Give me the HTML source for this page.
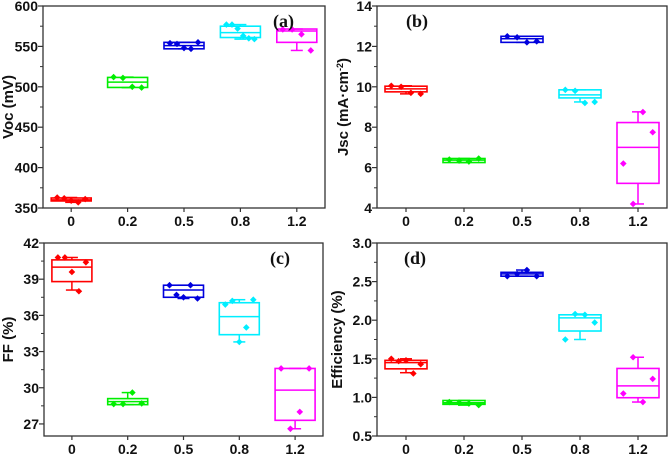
<!DOCTYPE html>
<html><head><meta charset="utf-8"><style>
body{margin:0;background:#fff}
svg text{font-family:"Liberation Sans",sans-serif;font-weight:bold}
</style></head><body>
<svg id="c" width="669" height="454" xmlns="http://www.w3.org/2000/svg"></svg>
<script>
const categories=["0","0.2","0.5","0.8","1.2"];
const colors=["#ff0000","#00ee00","#0000dd","#00eeff","#ff00ff"];
// panel a: Voc
const vocBox=[[358.7,360,362.4],[499.2,505.8,511.6],[547,551,555],[561,567,575],[555,569,571.5]];
const vocWhisk=[[357,363],[499,512],[547,555],[559,577],[545,571.5]];
const vocPts=[[363,362,359,357,361],[512,511,500,499],[554,553,548,547,555],[577,577,572,563,560,559],[571,571,565,545]];
const vocTicks=[350,400,450,500,550,600];
// panel b: Jsc
const jscBox=[[9.75,9.9,10.03],[6.25,6.37,6.45],[12.2,12.38,12.5],[9.45,9.6,9.85],[5.22,7.0,8.23]];
const jscWhisk=[[9.65,10.05],[6.25,6.45],[12.2,12.5],[9.25,9.85],[4.2,8.76]];
const jscPts=[[10.05,10,9.7,9.65],[6.4,6.35,6.3,6.45],[12.5,12.45,12.2,12.25],[9.85,9.8,9.2,9.25],[6.2,4.2,8.75,7.75]];
const jscTicks=[4,6,8,10,12,14];
// panel c: FF
const ffBox=[[38.8,40.0,40.6],[28.6,28.85,29.1],[37.5,38.1,38.5],[34.4,35.9,37.05],[27.3,29.8,31.6]];
const ffWhisk=[[38.1,40.8],[28.6,29.6],[37.4,38.5],[33.8,37.3],[26.6,31.6]];
const ffPts=[[40.8,40.8,39.6,38.0,40.4],[28.65,28.65,29.6,28.7],[38.5,37.7,37.5,38.5,37.4],[36.9,37.2,33.8,35.0,37.3],[31.6,26.6,28.0,31.6]];
const ffTicks=[27,30,33,36,39,42];
// panel d: Efficiency
const effBox=[[1.37,1.45,1.48],[0.91,0.93,0.96],[2.57,2.6,2.62],[1.86,2.03,2.07],[0.996,1.15,1.375]];
const effWhisk=[[1.32,1.5],[0.9,0.96],[2.57,2.65],[1.75,2.08],[0.94,1.52]];
const effPts=[[1.5,1.47,1.48,1.31,1.43],[0.94,0.93,0.92,0.9],[2.57,2.6,2.65,2.57],[1.75,2.08,2.07,1.97],[1.05,1.52,0.94,1.24]];
const effTicks=[0.5,1.0,1.5,2.0,2.5,3.0];

const svg=document.getElementById('c');
const NS="http://www.w3.org/2000/svg";
function mk(tag,at,parent){const e=document.createElementNS(NS,tag);for(const k in at)e.setAttribute(k,at[k]);(parent||svg).appendChild(e);return e;}

function panel(id,L,R,T,B,ymin,ymax,ticks,dec,box,whisk,pts,title,label,labelX,titleX,bw){
  const g=mk('g',{});
  
  
  const xs=i=>L+(i+0.5)*(R-L)/5;
  const ys=v=>B-(v-ymin)/(ymax-ymin)*(B-T);
  const fr=mk('rect',{x:L,y:T,width:R-L,height:B-T,fill:'none',stroke:'#333',"stroke-width":1.3},g);
  
  
  ticks.forEach((t,i)=>{
    const y=ys(t);
    mk('line',{x1:L-5,x2:L,y1:y,y2:y,stroke:'#333',"stroke-width":1.2},g);
    if(i<ticks.length-1){const ym=ys(t+(ticks[1]-ticks[0])/2);mk('line',{x1:L-3,x2:L,y1:ym,y2:ym,stroke:'#333',"stroke-width":1},g);}
    const tx=mk('text',{x:L-5,y:y+5,"text-anchor":"end","font-size":14,fill:'#111'},g);
    tx.textContent=t.toFixed(dec);
    
    
  });
  categories.forEach((c,i)=>{
    const x=xs(i);
    mk('line',{x1:x,x2:x,y1:B,y2:B+4,stroke:'#333',"stroke-width":1.2},g);
    const tx=mk('text',{x:x,y:B+18,"text-anchor":"middle","font-size":14,fill:'#111'},g);
    tx.textContent=c;
    
    
    const col=colors[i];const w=bw/2;
    const bg=mk('g',{},g);
    
    
    const [q1,md,q3]=box[i];const [lo,hi]=whisk[i];
    mk('line',{x1:x,x2:x,y1:ys(hi),y2:ys(q3),stroke:col,"stroke-width":1.5},bg);
    mk('line',{x1:x,x2:x,y1:ys(lo),y2:ys(q1),stroke:col,"stroke-width":1.5},bg);
    mk('line',{x1:x-6,x2:x+6,y1:ys(hi),y2:ys(hi),stroke:col,"stroke-width":1.5},bg);
    mk('line',{x1:x-6,x2:x+6,y1:ys(lo),y2:ys(lo),stroke:col,"stroke-width":1.5},bg);
    mk('rect',{x:x-w,y:ys(q3),width:bw,height:Math.max(ys(q1)-ys(q3),2),fill:'none',stroke:col,"stroke-width":1.6},bg);
    mk('line',{x1:x-w,x2:x+w,y1:ys(md),y2:ys(md),stroke:col,"stroke-width":1.5},bg);
    const p=pts[i];
    p.forEach((v,j)=>{
      const px=x-w*0.7+(p.length>1?j*(1.4*w)/(p.length-1):0);
      const y=ys(v);
      const d=mk('path',{d:`M${px} ${y-3.3}L${px+3.3} ${y}L${px} ${y+3.3}L${px-3.3} ${y}Z`,fill:col},bg);
      
      
    });
  });
  const yt=mk('text',{x:titleX,y:(T+B)/2,"text-anchor":"middle","font-size":15,fill:'#111',transform:`rotate(-90 ${titleX} ${(T+B)/2})`},g);
  yt.innerHTML=title;
  
  
  const pl=mk('text',{x:labelX,y:T+21,"font-size":18,fill:'#111',style:'font-family:"Liberation Serif",serif;font-weight:bold'},g);
  pl.textContent=label;
  
  
}
panel('a',43,325,6,208,350,600,vocTicks,0,vocBox,vocWhisk,vocPts,'Voc (mV)','(a)',273,13,40);
panel('b',377,667,6,208,4,14,jscTicks,0,jscBox,jscWhisk,jscPts,'Jsc (mA·cm<tspan font-size="9" dy="-5">-2</tspan><tspan dy="5">)</tspan>','(b)',406,348,42);
panel('c',44,323,243,436,26,42,ffTicks,0,ffBox,ffWhisk,ffPts,'FF (%)','(c)',270,13,40);
panel('d',377,667,243,436,0.5,3.0,effTicks,1,effBox,effWhisk,effPts,'Efficiency (%)','(d)',404,342,42);
</script>
</body></html>
